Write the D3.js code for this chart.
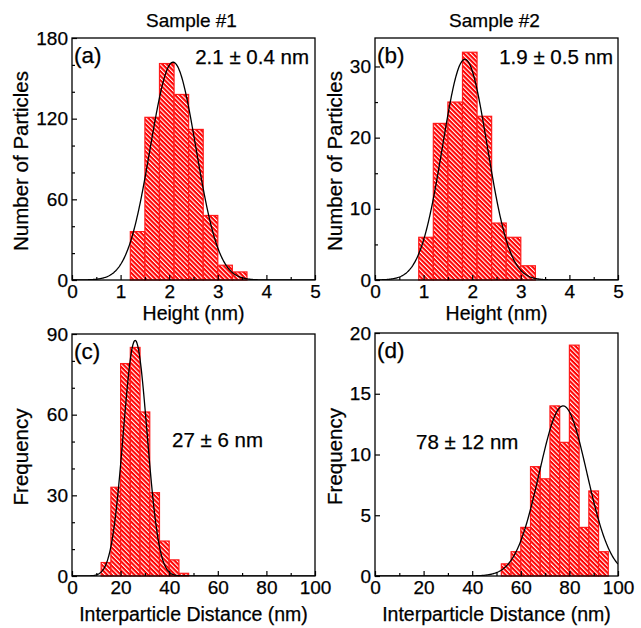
<!DOCTYPE html>
<html>
<head>
<meta charset="utf-8">
<script src="https://cdn.jsdelivr.net/npm/d3@7"></script>
<style>
  body { margin: 0; background: #fff; }
  svg text { font-family: "Liberation Sans", Arial, sans-serif; fill: #000; stroke: #000; stroke-width: 0.25px; }
</style>
</head>
<body>
<script>
// histogram bin edges and counts
var s1HeightEdges = [1.2, 1.5, 1.8, 2.1, 2.4, 2.7, 3.0, 3.3, 3.6];
var s1HeightCounts = [36, 121, 161, 138, 112, 48, 11, 6];
var s2HeightEdges = [0.9, 1.2, 1.5, 1.8, 2.1, 2.4, 2.7, 3.0, 3.3];
var s2HeightCounts = [6, 22, 25, 32, 23, 8, 6, 2];
var s1DistEdges = [12, 16, 20, 24, 28, 32, 36, 40, 44, 48];
var s1DistCounts = [5, 33, 79, 85, 61, 31, 13, 6, 1];
var s2DistEdges = [52, 56, 60, 64, 68, 72, 76, 80, 84, 88, 92, 96];
var s2DistCounts = [1, 2, 4, 9, 8, 14, 11, 19, 4, 7, 2];

// gaussian fit parameters for panels a, b, c, d
var fitCenter = [2.08, 1.85, 26, 77.4];
var fitSigma = [0.47, 0.46, 4.9, 9.8];
var fitAmp = [162, 31, 87.6, 14];

// axis ticks
var heightTicks = [0, 1, 2, 3, 4, 5];
var heightMinor = [0.5, 1.5, 2.5, 3.5, 4.5];
var distTicks = [0, 20, 40, 60, 80, 100];
var distMinor = [10, 30, 50, 70, 90];
var s1HeightYTicks = [0, 60, 120, 180];
var s1HeightYMinor = [20, 40, 80, 100, 140, 160];
var s2HeightYTicks = [0, 10, 20, 30];
var s2HeightYMinor = [5, 15, 25];
var s1DistYTicks = [0, 30, 60, 90];
var s1DistYMinor = [10, 20, 40, 50, 70, 80];
var s2DistYTicks = [0, 5, 10, 15, 20];
var s2DistYMinor = [];

var panelLabels = ["(a)", "(b)", "(c)", "(d)"];
var fitLabels = ["2.1 \u00b1 0.4 nm", "1.9 \u00b1 0.5 nm", "27 \u00b1 6 nm", "78 \u00b1 12 nm"];
var sampleTitles = ["Sample #1", "Sample #2"];

var WIDTH = 641, HEIGHT = 628;

var svg = d3.select("body").append("svg")
  .attr("width", WIDTH).attr("height", HEIGHT);

var defs = svg.append("defs");
var pat = defs.append("pattern").attr("id", "hatch")
  .attr("patternUnits", "userSpaceOnUse")
  .attr("width", 3.2).attr("height", 3.2)
  .attr("patternTransform", "rotate(-45)");
pat.append("rect").attr("width", 3.2).attr("height", 3.2).attr("fill", "#ff0000");
pat.append("rect").attr("width", 1.1).attr("height", 3.2).attr("fill", "#ffffff");

var panels = [
  {x0: 72, x1: 315, y0: 38, y1: 280, xDomain: [0, 5], yMax: 180, edges: s1HeightEdges, counts: s1HeightCounts,
   xt: heightTicks, xm: heightMinor, yt: s1HeightYTicks, ym: s1HeightYMinor, xLabel: "Height (nm)", yLabel: "Number of Particles",
   fitX: 309, fitY: 64, fitAnchor: "end", yTitleX: 28, xTitleDy: 40},
  {x0: 375, x1: 618, y0: 38, y1: 280, xDomain: [0, 5], yMax: 34, edges: s2HeightEdges, counts: s2HeightCounts,
   xt: heightTicks, xm: heightMinor, yt: s2HeightYTicks, ym: s2HeightYMinor, xLabel: "Height (nm)", yLabel: "Number of Particles",
   fitX: 613, fitY: 64, fitAnchor: "end", yTitleX: 342, xTitleDy: 40},
  {x0: 72, x1: 315, y0: 334, y1: 576, xDomain: [0, 100], yMax: 90, edges: s1DistEdges, counts: s1DistCounts,
   xt: distTicks, xm: distMinor, yt: s1DistYTicks, ym: s1DistYMinor, xLabel: "Interparticle Distance (nm)", yLabel: "Frequency",
   fitX: 172, fitY: 447, fitAnchor: "start", yTitleX: 28, xTitleDy: 45},
  {x0: 375, x1: 618, y0: 333, y1: 576, xDomain: [0, 100], yMax: 20, edges: s2DistEdges, counts: s2DistCounts,
   xt: distTicks, xm: distMinor, yt: s2DistYTicks, ym: s2DistYMinor, xLabel: "Interparticle Distance (nm)", yLabel: "Frequency",
   fitX: 416, fitY: 449, fitAnchor: "start", yTitleX: 342, xTitleDy: 45}
];

var drawPanel = function(p, i) {
  var x = d3.scaleLinear().domain(p.xDomain).range([p.x0, p.x1]);
  var y = d3.scaleLinear().domain([0, p.yMax]).range([p.y1, p.y0]);
  var g = svg.append("g");

  defs.append("clipPath").attr("id", "clip" + i)
    .append("rect").attr("x", p.x0).attr("y", p.y0)
    .attr("width", p.x1 - p.x0).attr("height", p.y1 - p.y0);

  var bins = p.counts.map(function(c, k) { return {lo: p.edges[k], hi: p.edges[k + 1], n: c}; });

  g.selectAll(".bar").data(bins).enter()
    .append("rect").classed("bar", true)
    .attr("x", function(d) { return x(d.lo); })
    .attr("y", function(d) { return y(d.n); })
    .attr("width", function(d) { return x(d.hi) - x(d.lo); })
    .attr("height", function(d) { return y(0) - y(d.n); })
    .attr("fill", "url(#hatch)")
    .attr("stroke", "#ff1a1a")
    .attr("stroke-width", 1.2);

  // fit curve
  var xs = d3.range(0, 401).map(function(k) {
    return p.xDomain[0] + (p.xDomain[1] - p.xDomain[0]) * k / 400;
  });
  var line = d3.line()
    .x(function(d) { return x(d); })
    .y(function(d) {
      var z = (d - fitCenter[i]) / fitSigma[i];
      return y(fitAmp[i] * Math.exp(-0.5 * z * z));
    });
  g.append("path").attr("d", line(xs))
    .attr("fill", "none").attr("stroke", "#000").attr("stroke-width", 1.3)
    .attr("clip-path", "url(#clip" + i + ")");

  // axes with inward ticks
  var ax = g.append("g").attr("transform", "translate(0," + p.y1 + ")")
    .call(d3.axisBottom(x).tickValues(p.xt).tickSize(-5).tickPadding(5).tickFormat(d3.format("d")));
  var axm = g.append("g").attr("transform", "translate(0," + p.y1 + ")")
    .call(d3.axisBottom(x).tickValues(p.xm).tickSize(-3).tickFormat(""));
  var ay = g.append("g").attr("transform", "translate(" + p.x0 + ",0)")
    .call(d3.axisLeft(y).tickValues(p.yt).tickSize(-5).tickPadding(4).tickFormat(d3.format("d")));
  var aym = g.append("g").attr("transform", "translate(" + p.x0 + ",0)")
    .call(d3.axisLeft(y).tickValues(p.ym).tickSize(-3).tickFormat(""));
  [ax, axm, ay, aym].forEach(function(a) {
    a.select(".domain").remove();
    a.selectAll("line").attr("stroke", "#000").attr("stroke-width", 1.2);
    a.selectAll("text").style("font-size", "19px").style("font-family", "Liberation Sans, Arial, sans-serif");
  });
  ax.selectAll("text").attr("dy", "0.71em");

  g.append("rect").attr("x", p.x0).attr("y", p.y0)
    .attr("width", p.x1 - p.x0).attr("height", p.y1 - p.y0)
    .attr("fill", "none").attr("stroke", "#000").attr("stroke-width", 1.3);

  g.append("text").attr("x", p.x0 + 2).attr("y", p.y0 + 25)
    .style("font-size", "22.5px").text(panelLabels[i]);
  g.append("text").attr("x", p.fitX).attr("y", p.fitY)
    .attr("text-anchor", p.fitAnchor).style("font-size", "20.5px").text(fitLabels[i]);

  g.append("text").attr("x", (p.x0 + p.x1) / 2).attr("y", p.y1 + p.xTitleDy)
    .attr("text-anchor", "middle").style("font-size", "19.5px").text(p.xLabel);
  g.append("text")
    .attr("transform", "translate(" + p.yTitleX + "," + ((p.y0 + p.y1) / 2 + 2) + ") rotate(-90)")
    .attr("text-anchor", "middle").style("font-size", "20.5px").text(p.yLabel);

  if (i < 2) {
    g.append("text").attr("x", (p.x0 + p.x1) / 2 - 2).attr("y", 27)
      .attr("text-anchor", "middle").style("font-size", "19px").text(sampleTitles[i]);
  }
};

panels.forEach(drawPanel);
</script>
</body>
</html>
